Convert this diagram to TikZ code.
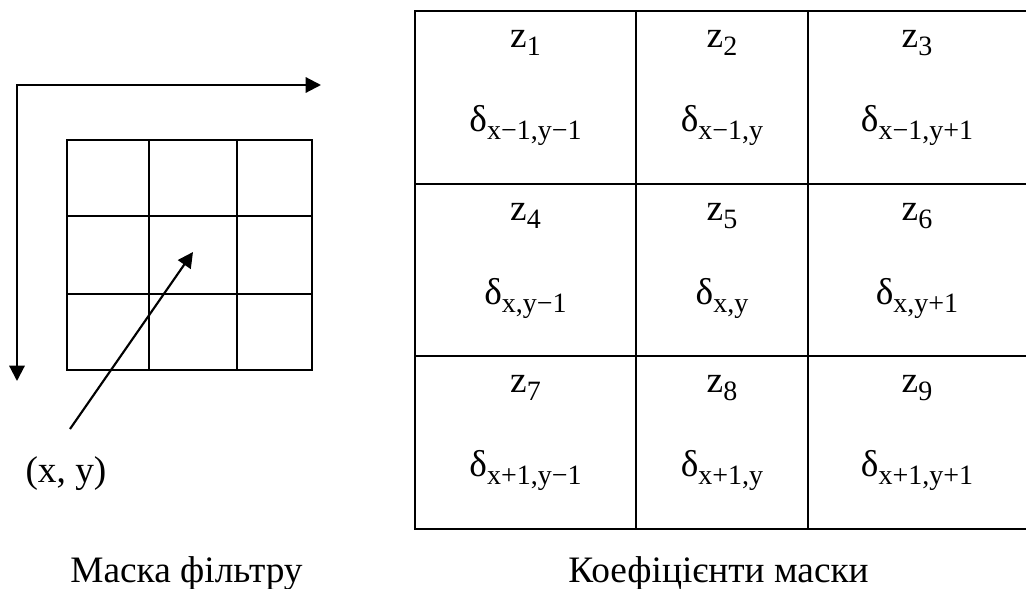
\documentclass[tikz,border=0pt]{standalone}
\usepackage{fontspec}
\setmainfont{Liberation Serif}
\usepackage{tikz}
\usetikzlibrary{arrows.meta,positioning,calc}

\newcommand{\mainsz}{\fontsize{28}{32}\selectfont}
\newcommand{\lowidx}[1]{\raisebox{-6.5pt}{\fontsize{21}{23}\selectfont #1}}

\tikzset{
    rule/.style={line width=1.6pt, line cap=rect},
    pointer/.style={line width=1.6pt, -{Triangle[length=11.5pt, width=11.5pt]}},
    label/.style={anchor=base, inner sep=0pt, font=\mainsz}
}

\begin{document}
\begin{tikzpicture}[x=0.75pt, y=-0.75pt]
            \useasboundingbox (0,0) rectangle (1026,589);

            \coordinate (corner) at (17,85);
            \coordinate (xend) at (321,85);
            \coordinate (yend) at (17,381);
            \draw[pointer, {Triangle[length=11.5pt, width=11.5pt]}-{Triangle[length=11.5pt, width=11.5pt]}] (xend) -- (corner) -- (yend);

            \draw[rule] (67,140) rectangle (312,370);
            \draw[rule] (149,140) -- (149,370) (237,140) -- (237,370);
            \draw[rule] (67,216) -- (312,216) (67,294) -- (312,294);

            \node[label] (xy) at (66,482) {(x, y)};
            \coordinate (ptail) at (70,429);
            \coordinate (phead) at (193,252);
            \draw[pointer] (ptail) -- (phead);

            \draw[rule] (1026,11) -- (415,11) -- (415,529) -- (1026,529);
            \draw[rule] (415,184) -- (1026,184) (415,356) -- (1026,356);
            \draw[rule] (636,11) -- (636,529) (808,11) -- (808,529);

            \foreach \ri/\top/\rs in {0/11/x−1, 1/184/x, 2/356/x+1} {
                \foreach \ci/\cx/\cs in {1/525.5/y−1, 2/722/y, 3/917/y+1} {
                    \pgfmathtruncatemacro{\n}{3*\ri+\ci}
                    \node[label] (z\n) at (\cx,\top+36) {z\lowidx{\n}};
                    \node[label] (d\n) at (\cx,\top+120) {δ\lowidx{\rs,\cs}};
                }
            }

            \node[label] (maskcap) at (186.5,582) {Маска фільтру};
            \node[label] (coefcap) at (718.5,582) {Коефіцієнти маски};
        \end{tikzpicture}
\end{document}
